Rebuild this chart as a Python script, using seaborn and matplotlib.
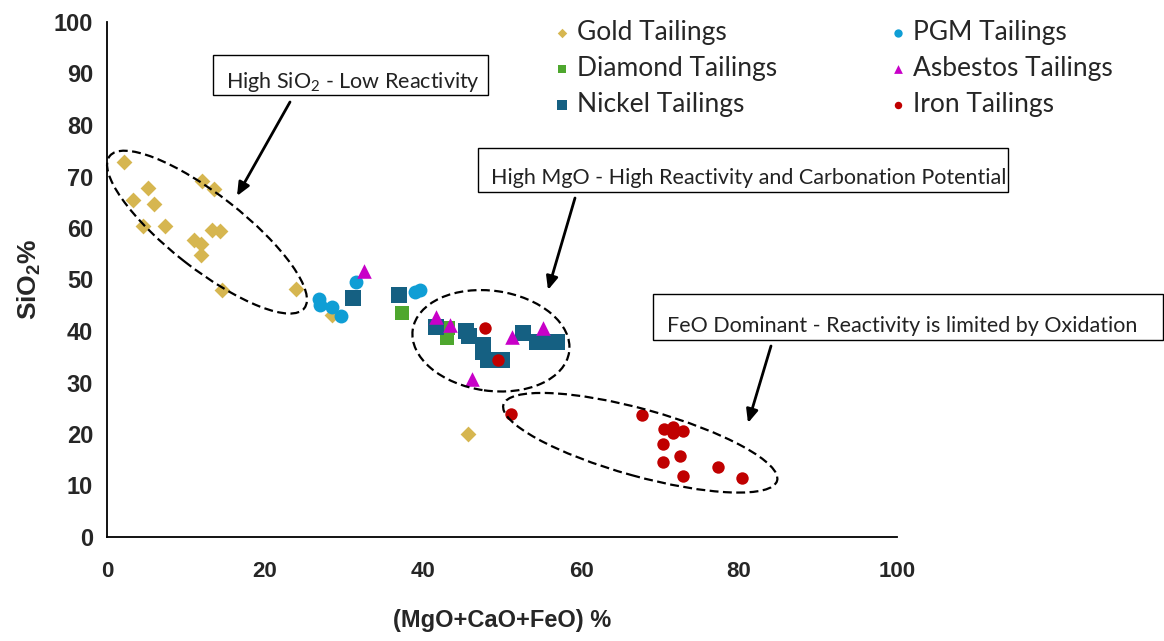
import numpy as np
import pandas as pd
import matplotlib
matplotlib.use("Agg")
import matplotlib.pyplot as plt
import matplotlib.transforms as mtransforms
from matplotlib.patches import Ellipse, Rectangle
import seaborn as sns

# ---------------- data ----------------
gold_x = [2.2, 3.3, 5.2, 5.9, 4.6, 7.3, 11.0, 11.9, 11.9, 12.0, 13.5, 13.3, 14.3, 14.6, 23.9, 28.5, 45.7]
gold_y = [72.8, 65.4, 67.8, 64.7, 60.4, 60.4, 57.7, 56.9, 54.8, 69.1, 67.6, 59.6, 59.4, 48.0, 48.2, 43.1, 20.0]

pgm_x = [26.8, 27.0, 28.5, 29.6, 31.5, 39.0, 39.6]
pgm_y = [46.2, 45.0, 44.7, 42.9, 49.5, 47.6, 48.0]

diamond_x = [37.3, 43.2, 43.0]
diamond_y = [43.5, 40.6, 38.6]

nickel_x = [31.1, 37.0, 41.6, 45.4, 45.8, 47.6, 47.6, 48.2, 50.0, 52.7, 54.4, 55.7, 57.0]
nickel_y = [46.4, 47.0, 40.8, 40.0, 39.0, 37.3, 36.0, 34.4, 34.4, 39.6, 37.9, 37.9, 37.9]

asbestos_x = [32.5, 41.6, 43.4, 51.3, 55.2, 46.2]
asbestos_y = [51.7, 42.7, 41.2, 38.8, 40.6, 30.7]

iron_x = [47.8, 49.5, 51.1, 67.7, 70.5, 71.6, 71.6, 72.9, 70.4, 72.5, 70.4, 72.9, 77.3, 80.4]
iron_y = [40.6, 34.4, 23.9, 23.7, 21.0, 21.4, 20.2, 20.6, 18.1, 15.7, 14.6, 11.8, 13.6, 11.5]

series_names = ["Gold Tailings", "PGM Tailings", "Diamond Tailings",
                "Nickel Tailings", "Asbestos Tailings", "Iron Tailings"]
series_x = [gold_x, pgm_x, diamond_x, nickel_x, asbestos_x, iron_x]
series_y = [gold_y, pgm_y, diamond_y, nickel_y, asbestos_y, iron_y]
colors = ["#D6B650", "#0F9ED5", "#4EA72E", "#156082", "#C800C8", "#C00000"]
markers = ["D", "o", "s", "s", "^", "o"]
sizes = [65, 100, 100, 130, 110, 80]

x_ticks = [0, 20, 40, 60, 80, 100]
y_ticks = [0, 10, 20, 30, 40, 50, 60, 70, 80, 90, 100]
x_label = "(MgO+CaO+FeO) %"
y_label = "SiO$_2$%"
notes = ["High SiO$_2$ - Low Reactivity",
         "High MgO - High Reactivity and Carbonation Potential",
         "FeO Dominant - Reactivity is limited by Oxidation"]

frames = []
for n, xs, ys in zip(series_names, series_x, series_y):
    frames.append(pd.DataFrame({"x": xs, "y": ys, "series": n}))
df = pd.concat(frames, ignore_index=True)

# ---------------- figure ----------------
sns.set_style("white")
plt.rcParams["mathtext.default"] = "regular"
W, H = 1164, 641
fig = plt.figure(figsize=(W / 100, H / 100), dpi=100)
ax = fig.add_axes([107 / W, 1 - 537 / H, (897 - 107) / W, (537 - 22) / H])

for n, c, m, s in zip(series_names, colors, markers, sizes):
    sns.scatterplot(data=df[df["series"] == n], x="x", y="y", color=c, marker=m,
                    s=s, linewidth=0, ax=ax, label=n, zorder=3)

ax.set_xlim(0, 100)
ax.set_ylim(0, 100)
ax.set_xticks(x_ticks)
ax.set_yticks(y_ticks)
for sp in ["top", "right"]:
    ax.spines[sp].set_visible(False)
for sp in ["left", "bottom"]:
    ax.spines[sp].set_color("black")
    ax.spines[sp].set_linewidth(1.3)
ax.tick_params(length=0)
ax.set_xticklabels([str(t) for t in x_ticks],
                   fontdict={"family": ["Liberation Sans"], "weight": "bold", "size": 16})
ax.set_yticklabels([str(t) for t in y_ticks],
                   fontdict={"family": ["Liberation Sans"], "weight": "bold", "size": 17})
ax.tick_params(axis="x", pad=17)
ax.tick_params(axis="y", pad=10)
ax.set_xlabel(x_label, family=["Liberation Sans"], weight="bold", size=17, labelpad=20)
ax.set_ylabel(y_label, family=["Liberation Sans"], weight="bold", size=19, labelpad=8)

# legend (column-wise: Gold, Diamond, Nickel | PGM, Asbestos, Iron)
handles, labels = ax.get_legend_handles_labels()
order = [0, 2, 3, 1, 4, 5]
leg = ax.legend([handles[i] for i in order], [labels[i] for i in order], ncol=2,
                loc="upper left", bbox_to_anchor=(551 / W, 1 - 20 / H),
                bbox_transform=fig.transFigure, frameon=False,
                prop={"family": ["Lato", "DejaVu Sans"], "size": 19},
                markerscale=0.6, handlelength=0.8, handletextpad=0.2,
                columnspacing=4.15, labelspacing=0.42, borderaxespad=0, borderpad=0)

# ellipses: centre in data units, size in pixels
def data_ellipse(cx, cy, w_px, h_px, angle):
    tr = fig.dpi_scale_trans + mtransforms.ScaledTranslation(cx, cy, ax.transData)
    e = Ellipse((0, 0), w_px / 100, h_px / 100, angle=angle, transform=tr,
                fill=False, edgecolor="black", linewidth=1.6,
                linestyle=(0, (4, 2)), zorder=4, clip_on=False)
    ax.add_patch(e)

data_ellipse(12.66, 59.2, 247, 74, -38)
data_ellipse(48.6, 38.1, 158, 100, -8)
data_ellipse(67.5, 18.3, 284, 67, -15.5)

# annotation boxes (pixel positions converted to figure fraction)
def box(x0, y0, x1, y1, tx, ty, txt):
    r = Rectangle((x0 / W, 1 - y1 / H), (x1 - x0) / W, (y1 - y0) / H,
                  transform=fig.transFigure, fill=False, edgecolor="black",
                  linewidth=1.0, clip_on=False)
    fig.add_artist(r)
    fig.text(tx / W, 1 - ty / H, txt, ha="left", va="center",
             family=["Lato", "DejaVu Sans"], size=15.5, color="#222222")

box(213, 55, 488, 95, 226, 82, notes[0])
box(478, 148, 1008, 192, 491, 178, notes[1])
box(653, 294, 1163, 340, 667, 326, notes[2])

# arrows
def arrow(x0, y0, x1, y1):
    ax.annotate("", xy=(x1, H - y1), xytext=(x0, H - y0), xycoords="figure pixels",
                textcoords="figure pixels",
                arrowprops=dict(arrowstyle="-|>,head_length=0.8,head_width=0.35",
                                color="black", lw=2.0, shrinkA=0, shrinkB=0),
                annotation_clip=False)

arrow(290, 102, 237, 196)
arrow(575, 198, 548, 290)
arrow(771, 346, 748, 423)

fig.savefig("out.png", dpi=100)
